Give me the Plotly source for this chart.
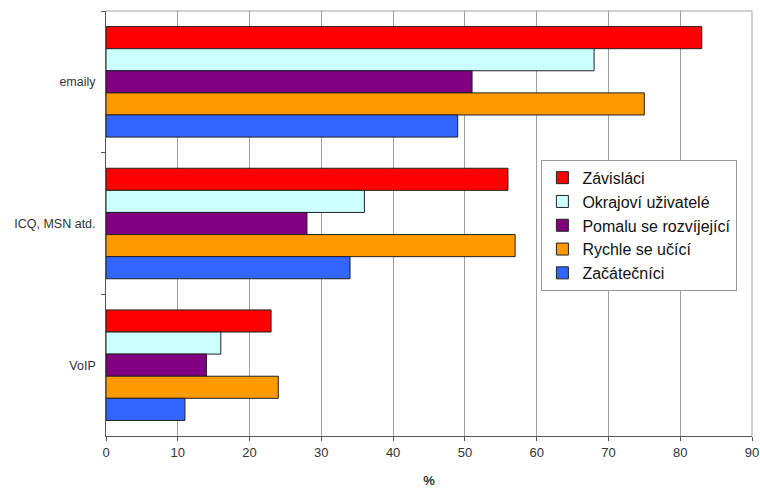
import plotly.graph_objects as go

categories = ["emaily", "ICQ, MSN atd.", "VoIP"]
series_names = ["Závisláci", "Okrajoví uživatelé", "Pomalu se rozvíjející",
                "Rychle se učící", "Začátečníci"]
zavislaci = [83, 56, 23]
okrajovi = [68, 36, 16]
pomalu = [51, 28, 14]
rychle = [75, 57, 24]
zacatecnici = [49, 34, 11]
x_ticks = [0, 10, 20, 30, 40, 50, 60, 70, 80, 90]

series_values = [zavislaci, okrajovi, pomalu, rychle, zacatecnici]
colors = ["#FF0000", "#CCFFFF", "#800080", "#FF9900", "#3366FF"]

fig = go.Figure()
for name, vals, col in zip(series_names, series_values, colors):
    fig.add_trace(go.Bar(
        y=categories, x=vals, name=name, orientation="h",
        marker=dict(color=col, line=dict(color="#222222", width=1)),
    ))

font_family = "Arial, Liberation Sans, sans-serif"
fig.update_layout(
    width=760, height=488,
    margin=dict(l=106, r=8, t=11, b=52),
    barmode="group", bargap=0.22, bargroupgap=0,
    plot_bgcolor="white", paper_bgcolor="white",
    font=dict(family=font_family, size=12, color="#222222"),
    showlegend=True,
    legend=dict(
        x=0.674, y=0.65, xanchor="left", yanchor="top",
        bgcolor="white", bordercolor="#999999", borderwidth=1,
        font=dict(size=16, color="#111111"),
        tracegroupgap=0, itemwidth=30,
    ),
    xaxis=dict(
        range=[0, 90], tickvals=x_ticks, ticks="outside", ticklen=4,
        tickcolor="#555555", showgrid=True, gridcolor="#A0A0A0", gridwidth=1,
        showline=True, linecolor="#555555", mirror=False, zeroline=False,
        automargin=False,
        tickfont=dict(size=13, color="#333333"),
        title=dict(text="<b>%</b>", font=dict(size=13, color="#333333"), standoff=18),
    ),
    yaxis=dict(
        autorange="reversed", ticks="outside", ticklen=4, tickcolor="#555555",
        tickson="boundaries", showgrid=False, showline=True, linecolor="#555555",
        automargin=False,
        tickfont=dict(size=12.5, color="#333333"), ticksuffix="  ",
    ),
)
# light border on top and right of the plotting area
fig.add_shape(type="line", xref="paper", yref="paper", x0=0, x1=1, y0=1, y1=1,
              line=dict(color="#A0A0A0", width=1))
fig.add_shape(type="line", xref="paper", yref="paper", x0=1, x1=1, y0=0, y1=1,
              line=dict(color="#A0A0A0", width=1))

fig.write_html("out.html")
